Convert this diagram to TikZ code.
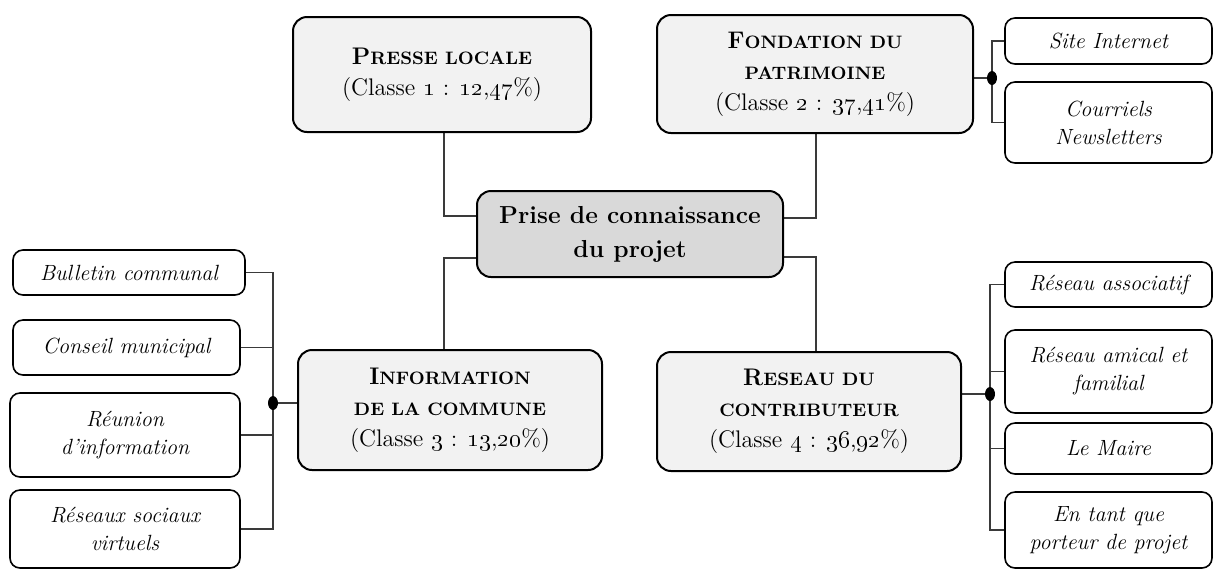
\documentclass[tikz,border=0pt]{standalone}
\usepackage{tikz}
\usetikzlibrary{positioning, shapes.geometric, backgrounds}
\definecolor{boxfill}{HTML}{F2F2F2}
\definecolor{hubfill}{HTML}{D9D9D9}
\definecolor{wire}{HTML}{3A3A3A}
\newcommand{\capsc}[2]{#1{\fontsize{9}{10}\selectfont #2}}
\newcommand{\classe}[3]{(Classe \oldstylenums{#1} : \oldstylenums{#2},\oldstylenums{#3}\%)}

\begin{document}
\begin{tikzpicture}[x=0.5pt, y=-0.5pt,
  theme/.style={draw=black, line width=1pt, rounded corners=7pt, fill=boxfill, align=center, inner sep=2pt, font=\fontsize{12}{15.5}\selectfont},
  hub/.style={theme, fill=hubfill, font=\bfseries\fontsize{12.3}{17}\selectfont},
  leaf/.style={draw=black, line width=0.8pt, rounded corners=5pt, fill=white, align=center, inner sep=2pt, minimum width=103.5pt, font=\itshape\fontsize{11}{14}\selectfont},
  knot/.style={ellipse, fill=black, minimum width=5pt, minimum height=7pt, inner sep=0pt},
  wire/.style={draw=wire, line width=0.6pt}]
  \useasboundingbox (0,0) rectangle (1216,570);

  \node[hub, minimum width=153pt, minimum height=43pt] (prise) at (630,234) {Prise de connaissance\\du projet};

  \node[theme, minimum width=149pt, minimum height=57.5pt] (presse) at (442,74.5) {\textbf{\capsc{P}{RESSE LOCALE}}\\\classe{1}{12}{47}};
  \node[theme, minimum width=158pt, minimum height=59pt] (fond) at (815,74) {\textbf{\capsc{F}{ONDATION DU}}\\\textbf{\capsc{}{PATRIMOINE}}\\\classe{2}{37}{41}};
  \node[theme, minimum width=152pt, minimum height=60pt] (info) at (450,410) {\textbf{\capsc{I}{NFORMATION}}\\\textbf{\capsc{}{DE LA COMMUNE}}\\\classe{3}{13}{20}};
  \node[theme, minimum width=152pt, minimum height=59.5pt] (reseau) at (809,411.5) {\textbf{\capsc{R}{ESEAU DU}}\\\textbf{\capsc{}{CONTRIBUTEUR}}\\\classe{4}{36}{92}};

  % sources, right
  \node[leaf, minimum height=23pt] (site) at (1108.5,41) {Site Internet};
  \node[leaf, minimum height=40.5pt] (courriels) at (1108.5,122.5) {Courriels\\Newsletters};
  \node[leaf, minimum height=22.5pt] (asso) at (1108.5,284.5) {Réseau associatif};
  \node[leaf, minimum height=41.5pt] (amical) at (1108.5,371.5) {Réseau amical et\\familial};
  \node[leaf, minimum height=25.5pt] (maire) at (1108.5,448.5) {Le Maire};
  \node[leaf, minimum height=38pt] (entant) at (1108.5,530) {En tant que\\porteur de projet};

  % sources, left
  \node[leaf, minimum width=116pt, minimum height=22.5pt] (bulletin) at (129,272.5) {Bulletin communal};
  \node[leaf, minimum width=113.5pt, minimum height=27.5pt] (conseil) at (126.5,347.5) {Conseil municipal};
  \node[leaf, minimum width=115pt, minimum height=42pt] (reunion) at (125,435) {Réunion\\d’information};
  \node[leaf, minimum width=115pt, minimum height=39pt] (sociaux) at (125,529) {Réseaux sociaux\\virtuels};

  \node[knot] (fknot) at (992,78) {};
  \node[knot] (rknot) at (990,394) {};
  \node[knot] (iknot) at (273,403) {};

  \coordinate (lcol) at (444,0);
  \coordinate (rcol) at (816,0);

  \begin{scope}[on background layer]
    \draw[wire] (presse.south -| lcol) |- ([yshift=9pt]prise.west);
    \draw[wire] (fond.south -| rcol) |- ([yshift=8pt]prise.east);
    \draw[wire] ([yshift=-12pt]prise.west) -| (info.north -| lcol);
    \draw[wire] ([yshift=-11.5pt]prise.east) -| (reseau.north -| rcol);

    \draw[wire] (site.west) -| (fknot.center) |- (courriels.west);
    \draw[wire] (fknot -| fond.east) -- (fknot);

    \draw[wire] (asso.west) -| (rknot.center) |- (entant.west);
    \draw[wire] (amical.west) -- (amical.west -| rknot);
    \draw[wire] (maire.west) -- (maire.west -| rknot);
    \draw[wire] (rknot -| reseau.east) -- (rknot);

    \draw[wire] (bulletin.east) -| (iknot.center) |- (sociaux.east);
    \draw[wire] (conseil.east) -- (conseil.east -| iknot);
    \draw[wire] (reunion.east) -- (reunion.east -| iknot);
    \draw[wire] (iknot -| info.west) -- (iknot);
  \end{scope}
\end{tikzpicture}
\end{document}
